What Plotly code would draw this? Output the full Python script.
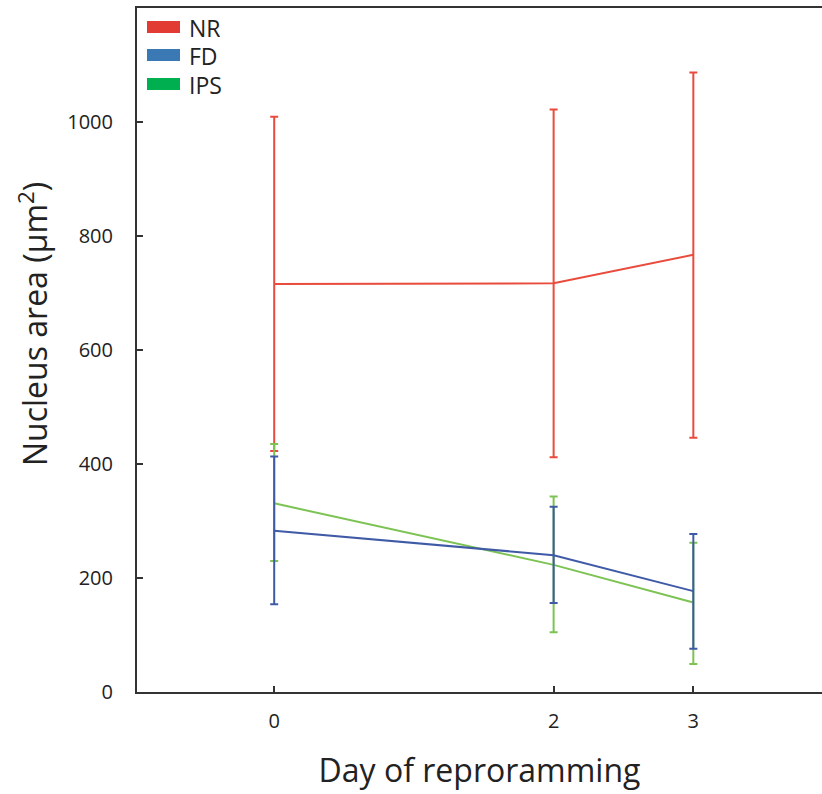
import plotly.graph_objects as go

days = [0, 2, 3]
series_names = ["NR", "FD", "IPS"]
nr_mean = [716, 717, 767]
nr_upper = [1009, 1022, 1087]
nr_lower = [423, 412, 446]
fd_mean = [283, 240, 177]
fd_upper = [413, 325, 277]
fd_lower = [154, 156, 76]
ips_mean = [331, 223, 157]
ips_upper = [435, 343, 262]
ips_lower = [230, 105, 49]
y_ticks = [0, 200, 400, 600, 800, 1000]
x_ticks = [0, 2, 3]

line_colors = ["#e94b3c", "#3f5aa6", "#7cc353"]
legend_colors = ["#e23b33", "#3b79b5", "#00b050"]

FONT = "Open Sans"
fig = go.Figure()

series = [(nr_mean, nr_upper, nr_lower), (fd_mean, fd_upper, fd_lower), (ips_mean, ips_upper, ips_lower)]
order = [0, 2, 1]
for i in order:
    m, up, lo = series[i]
    fig.add_trace(go.Scatter(
        x=days, y=m, mode="lines", name=series_names[i],
        line=dict(color=line_colors[i], width=2),
        error_y=dict(type="data", symmetric=False,
                     array=[u - v for u, v in zip(up, m)],
                     arrayminus=[v - l for v, l in zip(m, lo)],
                     color=line_colors[i], thickness=2, width=4),
        showlegend=False,
    ))

W, H = 822, 794
ml, mr, mt, mb = 137, 0, 8, 102
pw, ph = W - ml - mr, H - mt - mb

def px(xp):
    return (xp - ml) / pw

def py(yp):
    return (H - mb - yp) / ph

shapes = []
annotations = []
legend_y = [27, 55, 84]
for name, col, yc in zip(series_names, legend_colors, legend_y):
    shapes.append(dict(type="rect", xref="paper", yref="paper",
                       x0=px(147), x1=px(180), y0=py(yc + 6), y1=py(yc - 6),
                       fillcolor=col, line=dict(width=0)))
    annotations.append(dict(xref="paper", yref="paper", x=px(187), y=py(yc + 1),
                            text=name, showarrow=False, xanchor="left", yanchor="middle",
                            font=dict(family=FONT, size=23, color="#222222")))

annotations.append(dict(xref="paper", yref="paper", x=px(33), y=py(324),
                        text="Nucleus area (μm<sup>2</sup>)", showarrow=False, textangle=-90,
                        xanchor="center", yanchor="middle",
                        font=dict(family=FONT, size=32, color="#222222")))

fig.update_layout(
    width=W, height=H,
    margin=dict(l=ml, r=mr, t=mt, b=mb),
    paper_bgcolor="white", plot_bgcolor="white",
    font=dict(family=FONT, color="#222222"),
    shapes=shapes, annotations=annotations,
    xaxis=dict(range=[-0.982, 3.921], tickvals=x_ticks, ticktext=[str(v) for v in x_ticks],
               showgrid=False, zeroline=False, showline=True, linecolor="#333333", linewidth=2,
               mirror=True, ticks="inside", ticklen=6, tickwidth=2, tickcolor="#333333",
               tickfont=dict(size=20), ticklabelstandoff=10,
               title=dict(text="Day of reproramming", font=dict(size=32), standoff=27)),
    yaxis=dict(range=[0, 1200], tickvals=y_ticks, showgrid=False, zeroline=False,
               showline=True, linecolor="#333333", linewidth=2, mirror=False,
               ticks="inside", ticklen=6, tickwidth=2, tickcolor="#333333",
               tickfont=dict(size=20), ticklabelstandoff=18),
)

fig.write_html("out.html")
